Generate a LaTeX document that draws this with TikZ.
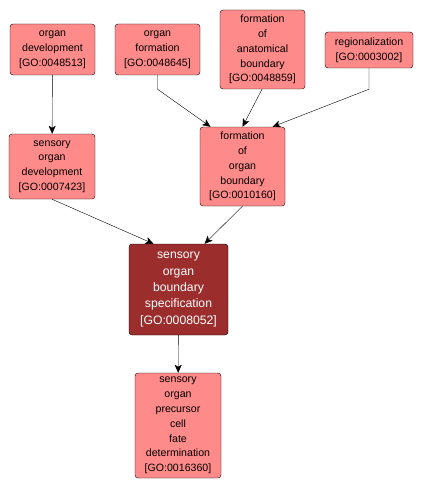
\documentclass[tikz,border=0pt]{standalone}
\usepackage{fontspec}
\setmainfont{Liberation Sans}
\usepackage{xcolor}
\usetikzlibrary{arrows.meta}
\definecolor{goterm}{RGB}{255,138,138}
\definecolor{goself}{RGB}{155,45,45}

\begin{document}
\begin{tikzpicture}[x=1pt,y=-1pt,
    term/.style={draw=black,fill=goterm,rounded corners=3pt,align=center,
      inner sep=0pt,font=\fontsize{10.6}{14.8}\selectfont},
    self/.style={term,fill=goself,text=white,font=\fontsize{12.2}{16.3}\selectfont},
    isa/.style={-{Stealth[length=8pt,width=7pt,inset=2pt]},black}]
    \useasboundingbox (0,0) rectangle (425,492);
    % top row
    \node[term,minimum width=85pt,minimum height=51pt] (odev) at (52.5,49.5)
      {organ\\development\\{}[GO:0048513]};
    \node[term,minimum width=85pt,minimum height=51pt] (ofor) at (157.5,49.5)
      {organ\\formation\\{}[GO:0048645]};
    \node[term,minimum width=85pt,minimum height=79pt] (fab) at (262.5,49.5)
      {formation\\of\\anatomical\\boundary\\{}[GO:0048859]};
    \node[term,minimum width=88pt,minimum height=36pt] (reg) at (369,50)
      {regionalization\\{}[GO:0003002]};
    % middle row
    \node[term,minimum width=86pt,minimum height=65pt] (sod) at (52,166.5)
      {sensory\\organ\\development\\{}[GO:0007423]};
    \node[term,minimum width=85pt,minimum height=79pt] (fob) at (242.5,166.5)
      {formation\\of\\organ\\boundary\\{}[GO:0010160]};
    % the term itself
    \node[self,minimum width=99pt,minimum height=91pt] (sobs) at (178.5,289.5)
      {sensory\\organ\\boundary\\specification\\{}[GO:0008052]};
    \node[term,minimum width=86pt,minimum height=105pt] (sopc) at (178,425.5)
      {sensory\\organ\\precursor\\cell\\fate\\determination\\{}[GO:0016360]};

    \draw[isa] (odev) -- (sod);
    \draw[isa] (ofor.south) -- ++(0,14) -- ([xshift=-32pt]fob.north);
    \draw[isa] ([xshift=-0.5pt]fab.south) -- (fob.north);
    \draw[isa] (reg.south) -- ++(0,21) -- ([xshift=30pt]fob.north);
    \draw[isa] (sod.south) -- ([xshift=-25pt]sobs.north);
    \draw[isa] (fob.south) -- ([xshift=26pt]sobs.north);
    \draw[isa] (sobs) -- (sopc);
  \end{tikzpicture}
\end{document}
